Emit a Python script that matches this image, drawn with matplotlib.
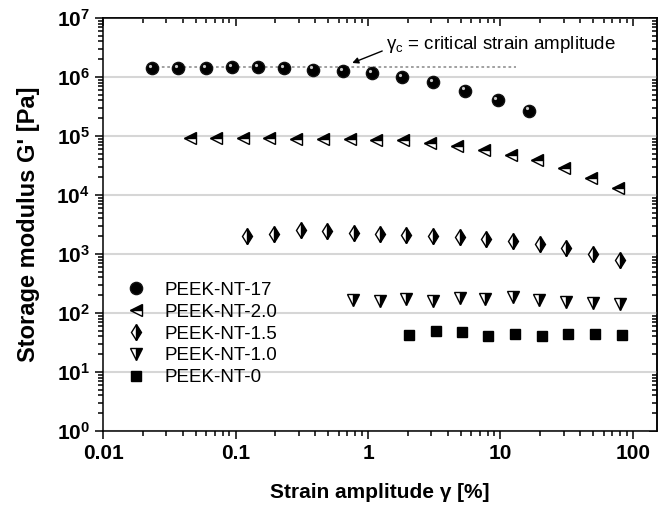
import math
import matplotlib
matplotlib.use('Agg')
import matplotlib.pyplot as plt
from matplotlib.ticker import LogLocator, FuncFormatter, NullFormatter
from matplotlib.transforms import ScaledTranslation

# Fonts: Arial-like, bold math for the 10^n tick labels.
plt.rcParams['font.family'] = ['Liberation Sans', 'DejaVu Sans']
plt.rcParams['mathtext.fontset'] = 'custom'
plt.rcParams['mathtext.rm'] = 'Liberation Sans'
plt.rcParams['mathtext.it'] = 'Liberation Sans'
plt.rcParams['mathtext.bf'] = 'Liberation Sans:bold'

# Data: strain amplitude [%] and G' [Pa].
nt17_x = [0.0233, 0.0368, 0.0596, 0.0935, 0.147, 0.232, 0.383, 0.644, 1.07,
          1.82, 3.11, 5.4, 9.5, 16.4]
nt17_y = [1.42e6, 1.40e6, 1.42e6, 1.45e6, 1.45e6, 1.42e6, 1.34e6, 1.28e6,
          1.17e6, 1.0e6, 8.2e5, 5.9e5, 4.1e5, 2.7e5]

nt20_x = [0.045, 0.071, 0.113, 0.18, 0.286, 0.455, 0.725, 1.15, 1.85, 2.95,
          4.7, 7.5, 12.0, 19.0, 30.0, 48.0, 77.0]
nt20_y = [9.2e4, 9.2e4, 9.1e4, 9.1e4, 9.0e4, 9.0e4, 8.9e4, 8.7e4, 8.4e4,
          7.6e4, 6.8e4, 5.7e4, 4.8e4, 3.86e4, 2.87e4, 1.94e4, 1.31e4]

nt15_x = [0.122, 0.195, 0.311, 0.489, 0.778, 1.24, 1.95, 3.1, 4.94, 7.8,
          12.5, 19.9, 31.3, 49.8, 79.3]
nt15_y = [2050, 2190, 2570, 2500, 2310, 2170, 2140, 2050, 1930, 1830, 1690,
          1470, 1260, 1000, 795]

nt10_x = [0.77, 1.24, 1.95, 3.1, 4.94, 7.7, 12.5, 19.6, 31.3, 49.8, 79.3]
nt10_y = [166, 162, 171, 162, 177, 171, 185, 166, 156, 150, 142]

nt0_x = [2.03, 3.24, 5.1, 8.1, 12.9, 20.7, 32.6, 52.0, 83.0]
nt0_y = [42.4, 49.5, 47.1, 40.8, 44.6, 40.8, 44.6, 44.6, 42.9]

labels = ['PEEK-NT-17', 'PEEK-NT-2.0', 'PEEK-NT-1.5', 'PEEK-NT-1.0', 'PEEK-NT-0']
x_ticks = [0.01, 0.1, 1, 10, 100]
x_tick_labels = ['0.01', '0.1', '1', '10', '100']

fig = plt.figure(figsize=(6.65, 5.09), dpi=100)
ax = fig.add_axes([0.155, 0.1532, 0.833, 0.8114])
ax.set_xscale('log')
ax.set_yscale('log')

# Critical strain guide line and annotation.
ax.plot([0.023, 13], [1.5e6, 1.5e6], color='#9a9a9a', linestyle=(0, (1.5, 1.5)),
        linewidth=1.3, zorder=1)
ax.annotate('', xy=(0.76, 1.73e6), xytext=(1.28, 2.76e6),
            arrowprops=dict(arrowstyle='-|>', color='black', lw=1,
                            mutation_scale=9, shrinkA=0, shrinkB=0))
ax.text(1.37, 3.5e6, r'$\mathrm{\gamma_c}$ = critical strain amplitude',
        fontsize=13.5, ha='left', va='center')

# Series.
ax.plot(nt17_x, nt17_y, 'o', ms=8.8, color='black', mec='#111111',
        label=labels[0], zorder=3)
shine = ax.transData + ScaledTranslation(-1.5 / 72, 1.5 / 72, fig.dpi_scale_trans)
ax.plot(nt17_x, nt17_y, 'o', ms=2.3, color='#c8c8c8', mec='none',
        transform=shine, zorder=4)
ax.plot(nt20_x, nt20_y, '<', ms=8.5, color='black', mfc='black', mfcalt='white',
        fillstyle='top', mew=1, label=labels[1], zorder=3)
ax.plot(nt15_x, nt15_y, 'd', ms=8.5, color='black', mfc='black', mfcalt='white',
        fillstyle='right', mew=1, label=labels[2], zorder=3)
ax.plot(nt10_x, nt10_y, 'v', ms=8.5, color='black', mfc='black', mfcalt='white',
        fillstyle='right', mew=1, label=labels[3], zorder=3)
ax.plot(nt0_x, nt0_y, 's', ms=6.8, color='black', label=labels[4], zorder=3)

ax.set_xlim(0.01, 152)
ax.set_ylim(1, 1e7)

# Ticks: outward on bottom/left, inward mirrored on top/right.
ax.set_xticks(x_ticks)
ax.set_xticklabels(x_tick_labels)
ax.xaxis.set_minor_locator(LogLocator(base=10, subs=range(2, 10), numticks=20))
ax.xaxis.set_minor_formatter(NullFormatter())
ax.yaxis.set_major_locator(LogLocator(base=10, numticks=10))
ax.yaxis.set_minor_locator(LogLocator(base=10, subs=range(2, 10), numticks=20))
ax.yaxis.set_major_formatter(FuncFormatter(
    lambda v, p: r'$\mathbf{10^{%d}}$' % round(math.log10(v))))
ax.yaxis.set_minor_formatter(NullFormatter())
for lab in ax.get_xticklabels():
    lab.set_fontweight('bold')
ax.tick_params(which='both', direction='out', width=1.1, labelsize=15,
               top=False, right=False)
ax.tick_params(which='major', length=6)
ax.tick_params(which='minor', length=3.5)
ax.tick_params(axis='x', pad=3)

sec_x = ax.secondary_xaxis('top')
sec_x.set_xticks(x_ticks)
sec_x.xaxis.set_minor_locator(LogLocator(base=10, subs=range(2, 10), numticks=20))
sec_x.tick_params(which='both', direction='in', labeltop=False, width=1.1)
sec_x.tick_params(which='major', length=6)
sec_x.tick_params(which='minor', length=3.5)
sec_x.set_xticklabels([])
sec_y = ax.secondary_yaxis('right')
sec_y.yaxis.set_major_locator(LogLocator(base=10, numticks=10))
sec_y.yaxis.set_minor_locator(LogLocator(base=10, subs=range(2, 10), numticks=20))
sec_y.tick_params(which='both', direction='in', labelright=False, width=1.1)
sec_y.tick_params(which='major', length=6)
sec_y.tick_params(which='minor', length=3.5)
sec_y.yaxis.set_major_formatter(NullFormatter())

for sp in ax.spines.values():
    sp.set_linewidth(1.1)
sec_x.spines['top'].set_linewidth(1.1)
sec_y.spines['right'].set_linewidth(1.1)

ax.yaxis.grid(True, which='major', color='#d6d6d6', linewidth=1.5)
ax.set_axisbelow(True)

ax.set_xlabel('Strain amplitude γ [%]', fontsize=15, fontweight='bold', labelpad=15)
ax.set_ylabel("Storage modulus G' [Pa]", fontsize=17, fontweight='bold', labelpad=12)

ax.legend(loc='center left', bbox_to_anchor=(0.0426, 0.235), frameon=False,
          fontsize=13.5, borderaxespad=0, borderpad=0, handlelength=1,
          handletextpad=1.0, labelspacing=0.25)

fig.savefig('out.png', dpi=100)
